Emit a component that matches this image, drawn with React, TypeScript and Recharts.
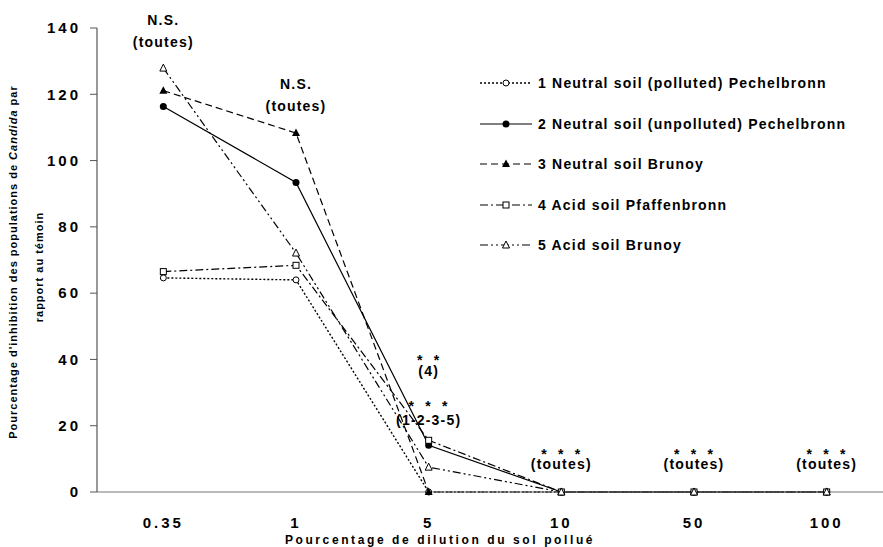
import React from "react";
import { LineChart, Line, XAxis, YAxis, ReferenceDot, Legend } from "recharts";

const categories = ["0.35", "1", "5", "10", "50", "100"];
const yTicks = [0, 20, 40, 60, 80, 100, 120, 140];

const seriesNames = [
  "1 Neutral soil (polluted) Pechelbronn",
  "2 Neutral soil (unpolluted) Pechelbronn",
  "3 Neutral soil Brunoy",
  "4 Acid soil Pfaffenbronn",
  "5 Acid soil Brunoy",
];
const s1 = [64.6, 64.0, 0, 0, 0, 0];
const s2 = [116.3, 93.4, 14.1, 0, 0, 0];
const s3 = [121.1, 108.3, 0, 0, 0, 0];
const s4 = [66.5, 68.4, 15.6, 0, 0, 0];
const s5 = [127.9, 72.1, 7.5, 0, 0, 0];

// significance notes, placed in data units above the points
const noteCats = ["0.35", "0.35", "1", "1", "5", "5", "5", "5", "10", "10", "50", "50", "100", "100"];
const noteVals = [142.2, 135.5, 122.9, 116.2, 40.9, 36.2, 27.0, 21.6, 12.4, 8.3, 12.4, 8.3, 12.4, 8.3];
const noteTexts = ["N.S.", "(toutes)", "N.S.", "(toutes)", "* *", "(4)", "* * *", "(1-2-3-5)", "* * *", "(toutes)", "* * *", "(toutes)", "* * *", "(toutes)"];

const data = categories.map((c, i) => ({ cat: c, s1: s1[i], s2: s2[i], s3: s3[i], s4: s4[i], s5: s5[i] }));

const FONT = '"Liberation Sans", Arial, sans-serif';

const styles = [
  { key: "s1", dash: "2 2", shape: "circleOpen", width: 1.4 },
  { key: "s2", dash: undefined, shape: "circleFilled", width: 1.2 },
  { key: "s3", dash: "7 4", shape: "triFilled", width: 1.2 },
  { key: "s4", dash: "8 3 2 3", shape: "square", width: 1.2 },
  { key: "s5", dash: "8 3 2 3 2 3", shape: "triOpen", width: 1.2 },
];

function Marker({ shape, cx, cy }: { shape: string; cx: number; cy: number }) {
  if (cx == null || cy == null) return null;
  switch (shape) {
    case "circleOpen":
      return <circle cx={cx} cy={cy} r={3} fill="#fff" stroke="#000" strokeWidth={1} />;
    case "circleFilled":
      return <circle cx={cx} cy={cy} r={3.5} fill="#000" />;
    case "triFilled":
      return <polygon points={`${cx},${cy - 4.5} ${cx + 4},${cy + 3} ${cx - 4},${cy + 3}`} fill="#000" />;
    case "square":
      return <rect x={cx - 3} y={cy - 3} width={6} height={6} fill="#fff" stroke="#000" strokeWidth={1} />;
    case "triOpen":
      return <polygon points={`${cx},${cy - 4} ${cx + 3.5},${cy + 3} ${cx - 3.5},${cy + 3}`} fill="#fff" stroke="#000" strokeWidth={1} />;
  }
  return null;
}

function NoteLabel(props: any) {
  const { viewBox, text } = props;
  const isStar = text.startsWith("*");
  return (
    <text
      x={viewBox.x}
      y={viewBox.y}
      dy={isStar ? "0.6em" : "0.3em"}
      textAnchor="middle"
      fontSize={14}
      fontWeight="bold"
      letterSpacing={1.2}
      wordSpacing={isStar ? 5 : 0}
      fill="#000"
      fontFamily={FONT}
    >
      {text}
    </text>
  );
}

function YLabel(props: any) {
  const vb = props.viewBox;
  const cy = vb.y + vb.height / 2 + 2;
  const x1 = vb.x + 14;
  const x2 = vb.x + 40;
  return (
    <g fontFamily={FONT} fontSize={11} fontWeight="bold" fill="#000" letterSpacing={1}>
      <text x={x1} y={cy} dy="0.3em" textAnchor="middle" transform={`rotate(-90, ${x1}, ${cy})`}>
        Pourcentage d'inhibition des populations de <tspan fontStyle="italic">Candida</tspan> par
      </text>
      <text x={x2} y={cy + 5} dy="0.3em" textAnchor="middle" transform={`rotate(-90, ${x2}, ${cy + 5})`}>
        rapport au témoin
      </text>
    </g>
  );
}

function XLabel(props: any) {
  const vb = props.viewBox;
  return (
    <text
      x={vb.x + 343}
      y={vb.y + 48}
      dy="0.36em"
      textAnchor="middle"
      fontFamily={FONT}
      fontSize={12}
      fontWeight="bold"
      letterSpacing={2.6}
      fill="#000"
    >
      Pourcentage de dilution du sol pollué
    </text>
  );
}

function LegendBox() {
  return (
    <div style={{ fontFamily: FONT }}>
      {styles.map((s, i) => (
        <div key={s.key} style={{ display: "flex", alignItems: "center", height: 40.5 }}>
          <svg width={52} height={12}>
            <line x1={0} y1={6} x2={52} y2={6} stroke="#000" strokeWidth={s.width} strokeDasharray={s.dash} />
            <Marker shape={s.shape} cx={26} cy={6} />
          </svg>
          <span style={{ marginLeft: 6, fontSize: 14, fontWeight: "bold", letterSpacing: 1.2, whiteSpace: "nowrap", color: "#000" }}>
            {seriesNames[i]}
          </span>
        </div>
      ))}
    </div>
  );
}

export default function App() {
  return (
    <div style={{ position: "absolute", left: 0, top: 0, width: 883, height: 547, overflow: "hidden", background: "#fff", fontFamily: FONT }}>
      <LineChart width={900} height={547} data={data} margin={{ top: 28, right: 7, bottom: 0, left: 0 }}>
        <XAxis
          dataKey="cat"
          scale="band"
          height={55}
          tickLine={false}
          tickSize={0}
          tickMargin={25}
          axisLine={{ stroke: "#777", strokeWidth: 1.2 }}
          tick={{ fontSize: 15, fontWeight: "bold", fill: "#000", letterSpacing: 3, fontFamily: FONT }}
          label={(p: any) => <XLabel {...p} />}
        />
        <YAxis
          width={97}
          domain={[0, 140]}
          ticks={yTicks}
          interval={0}
          tickSize={7}
          tickMargin={9}
          axisLine={{ stroke: "#555", strokeWidth: 1.2 }}
          tickLine={{ stroke: "#555" }}
          tick={{ fontSize: 15, fontWeight: "bold", fill: "#000", letterSpacing: 3, fontFamily: FONT }}
          label={(p: any) => <YLabel {...p} />}
        />
        {styles.map((s) => (
          <Line
            key={s.key}
            dataKey={s.key}
            type="linear"
            stroke="#000"
            strokeWidth={s.width}
            strokeDasharray={s.dash}
            isAnimationActive={false}
            dot={(p: any) => <Marker key={`${s.key}-${p.index}`} shape={s.shape} cx={p.cx} cy={p.cy} />}
            activeDot={false}
          />
        ))}
        {noteTexts.map((t, i) => (
          <ReferenceDot
            key={`note-${i}`}
            x={noteCats[i]}
            y={noteVals[i]}
            r={0}
            fill="none"
            stroke="none"
            ifOverflow="visible"
            label={(p: any) => <NoteLabel {...p} text={t} />}
          />
        ))}
        <Legend
          layout="vertical"
          align="center"
          verticalAlign="middle"
          content={() => <LegendBox />}
          wrapperStyle={{ left: 480, top: 63, width: "auto" }}
        />
      </LineChart>
    </div>
  );
}
